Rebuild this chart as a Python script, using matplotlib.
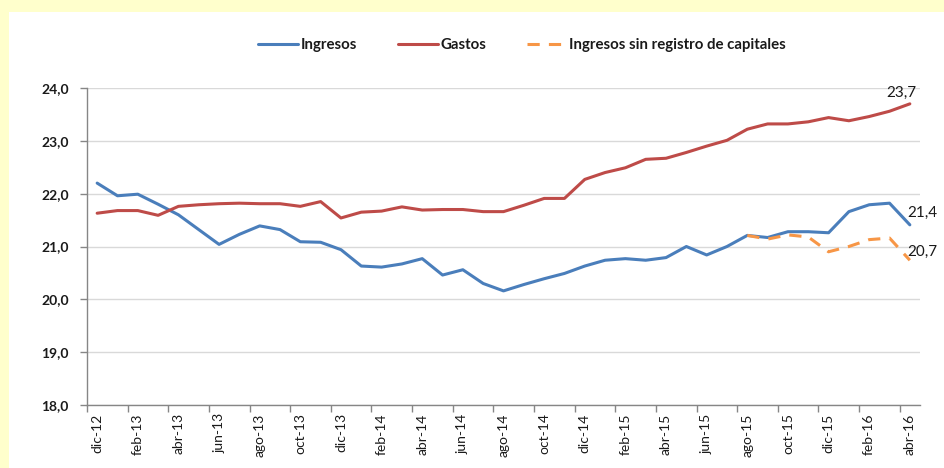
import matplotlib
matplotlib.use("Agg")
import matplotlib.pyplot as plt
from matplotlib.ticker import FuncFormatter, FixedLocator
import numpy as np

plt.rcParams['font.family'] = ['Lato', 'DejaVu Sans']

months = ["dic-12", "ene-13", "feb-13", "mar-13", "abr-13", "may-13", "jun-13", "jul-13",
          "ago-13", "sep-13", "oct-13", "nov-13", "dic-13", "ene-14", "feb-14", "mar-14",
          "abr-14", "may-14", "jun-14", "jul-14", "ago-14", "sep-14", "oct-14", "nov-14",
          "dic-14", "ene-15", "feb-15", "mar-15", "abr-15", "may-15", "jun-15", "jul-15",
          "ago-15", "sep-15", "oct-15", "nov-15", "dic-15", "ene-16", "feb-16", "mar-16",
          "abr-16"]

ingresos = [22.20, 21.96, 21.99, 21.80, 21.60, 21.32, 21.04, 21.23, 21.39, 21.32,
            21.09, 21.08, 20.94, 20.63, 20.61, 20.67, 20.77, 20.46, 20.56, 20.30,
            20.16, 20.28, 20.39, 20.49, 20.63, 20.74, 20.77, 20.74, 20.79, 21.00,
            20.84, 21.00, 21.21, 21.17, 21.28, 21.28, 21.26, 21.66, 21.79, 21.82,
            21.41]

gastos = [21.63, 21.68, 21.68, 21.59, 21.76, 21.79, 21.81, 21.82, 21.81, 21.81,
          21.76, 21.85, 21.54, 21.65, 21.67, 21.75, 21.69, 21.70, 21.70, 21.66,
          21.66, 21.78, 21.91, 21.91, 22.27, 22.40, 22.49, 22.65, 22.67, 22.78,
          22.90, 23.01, 23.22, 23.32, 23.32, 23.36, 23.44, 23.38, 23.46, 23.56,
          23.70]

# Ingresos sin registro de capitales: from ago-15 onwards
sin_cap_start = 32
ingresos_sin_cap = [21.21, 21.14, 21.22, 21.18, 20.90, 21.00, 21.13, 21.16, 20.74]

blue = "#4A7EBB"
red = "#BE4B48"
orange = "#F79646"

fig = plt.figure(figsize=(9.45, 4.68), dpi=100)
fig.patch.set_facecolor("#FFFFCC")

bg = fig.add_axes([9 / 945, 0, 1 - 9 / 945, (468 - 12) / 468], zorder=-5)
bg.set_facecolor("white")
bg.set_xticks([])
bg.set_yticks([])
for s in bg.spines.values():
    s.set_visible(False)

ax = fig.add_axes([87 / 945, 1 - 405 / 468, (920 - 87) / 945, (405 - 88) / 468], zorder=1)
ax.set_facecolor("none")

x = np.arange(len(months))
ax.plot(x, ingresos, color=blue, lw=2.2, label="Ingresos", solid_capstyle="round")
ax.plot(x, gastos, color=red, lw=2.2, label="Gastos", solid_capstyle="round")
xs = np.arange(sin_cap_start, sin_cap_start + len(ingresos_sin_cap))
ax.plot(xs, ingresos_sin_cap, color=orange, lw=2.2, ls=(0, (4, 3)),
        label="Ingresos sin registro de capitales")

ax.set_xlim(-0.5, len(months) - 0.5)
ax.set_ylim(18, 24)
ax.set_yticks(np.arange(18, 24.01, 1))
ax.yaxis.set_major_formatter(FuncFormatter(lambda v, p: f"{v:.1f}".replace(".", ",")))
ax.grid(axis="y", color="#D9D9D9", lw=1)
ax.set_axisbelow(True)

ax.set_xticks(x[::2])
ax.set_xticklabels(months[::2], rotation=90, fontsize=10, color="#1a1a1a")
ax.xaxis.set_minor_locator(FixedLocator(np.arange(-0.5, len(months) - 1, 2)))
ax.tick_params(axis="x", which="major", length=0, pad=6)
ax.tick_params(axis="x", which="minor", length=5, color="#868686", width=1)
ax.tick_params(axis="y", length=5, color="#868686", width=1, labelsize=10,
               labelcolor="#1a1a1a", pad=8)
for lab in ax.get_yticklabels():
    lab.set_fontweight("bold")

for s in ["top", "right"]:
    ax.spines[s].set_visible(False)
for s in ["left", "bottom"]:
    ax.spines[s].set_color("#868686")
    ax.spines[s].set_linewidth(1)

# end labels
ax.annotate("23,7", (x[-1], gastos[-1]), xytext=(-6, 8), textcoords="offset points",
            ha="center", va="center", fontsize=11, color="#1a1a1a", annotation_clip=False)
ax.annotate("21,4", (x[-1], ingresos[-1]), xytext=(-1.5, 8.7), textcoords="offset points",
            ha="left", va="center", fontsize=11, color="#1a1a1a", annotation_clip=False)
ax.annotate("20,7", (xs[-1], ingresos_sin_cap[-1]), xytext=(-1.5, 6), textcoords="offset points",
            ha="left", va="center", fontsize=11, color="#1a1a1a", annotation_clip=False)

leg = fig.legend(loc="center", bbox_to_anchor=(0.5524, 1 - 45 / 468), ncol=3, frameon=False,
                 fontsize=10.8, handlelength=2.7, columnspacing=2.7, handletextpad=0.15)
for t in leg.get_texts():
    t.set_fontweight("bold")
    t.set_color("#1a1a1a")

fig.savefig("out.png", dpi=100, facecolor=fig.get_facecolor())
